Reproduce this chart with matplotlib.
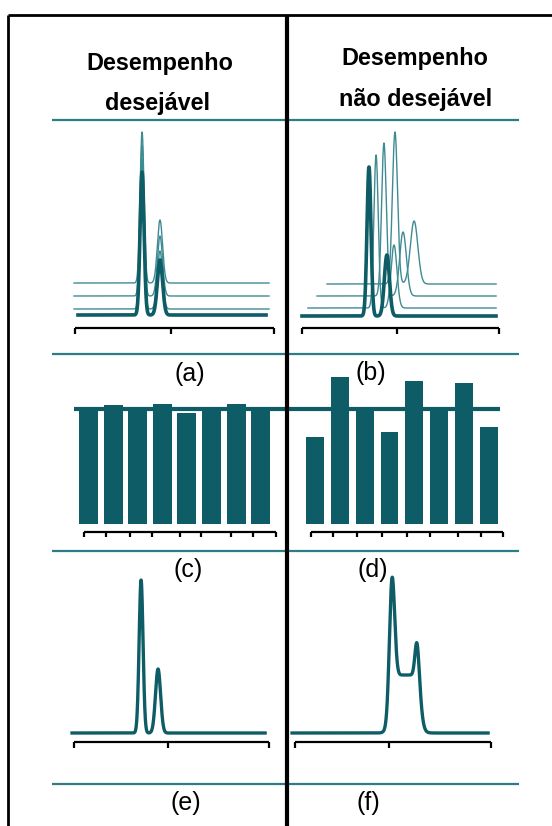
import matplotlib
matplotlib.use("Agg")
import matplotlib.pyplot as plt
import numpy as np

W, H = 552, 826
DARK = "#0e5c66"
THIN = "#3f8b92"
RULE = "#2d7d87"
plt.rcParams["font.family"] = ["Liberation Sans", "DejaVu Sans"]

# chromatograms: x in minutes (bracket 0..10), y in detector response
chrom_ticks = [0, 4.8, 10]

# (a) desirable: retention times stay put between injections
a_offsets = [0, 6, 19, 32]
a_starts = [0.15, -0.05, -0.05, -0.05]
a_ends = [9.6, 9.75, 9.75, 9.75]
a_rt1 = [3.37, 3.37, 3.37, 3.37]
a_rt2 = [4.27, 4.27, 4.27, 4.27]
a_h1 = [143, 150, 151, 151]
a_h2 = [55, 58, 60, 63]
a_sd1 = [0.10, 0.10, 0.10, 0.10]
a_sd2 = [0.13, 0.13, 0.13, 0.13]

# (b) undesirable: retention times drift
b_offsets = [0, 8, 20, 32]
b_starts = [0.0, 0.30, 0.76, 1.27]
b_ends = [9.85, 9.85, 9.85, 9.85]
b_rt1 = [3.40, 3.76, 4.16, 4.72]
b_rt2 = [4.31, 4.67, 5.13, 5.69]
b_h1 = [149, 153, 153, 152]
b_h2 = [61, 63, 64, 63]
b_sd1 = [0.10, 0.11, 0.12, 0.13]
b_sd2 = [0.13, 0.15, 0.17, 0.19]

# (c)/(d) peak areas, % of target
target = 100
c_values = [100, 103.5, 100, 104.3, 96.5, 100, 104.3, 100]
d_values = [75.7, 127.8, 100, 80, 124.3, 100, 122.6, 84.3]
c_ticks = [-0.18, 0.71, 1.69, 2.58, 3.72, 4.57, 5.79, 6.69, 7.62]
d_ticks = [-0.16, 0.72, 1.69, 2.70, 3.70, 4.63, 5.75, 6.68, 7.57]

# (e) resolved peaks
e_rt = [3.44, 4.31]
e_h = [153, 64]
e_sd = [0.10, 0.13]
e_range = [-0.1, 9.8]

# (f) co-eluting peaks on a shoulder
f_rt = [4.95, 6.22]
f_h = [105, 36]
f_sd = [0.13, 0.10]
f_shoulder = [4.8, 6.43, 58]   # start, end, height
f_range = [-0.15, 9.85]


def panel_axes(fig, px_box, x0, sx, y0, sy):
    # px_box = (left, right, top, bottom) in pixels
    l, r, t, b = px_box
    ax = fig.add_axes([l / W, 1 - b / H, (r - l) / W, (b - t) / H])
    ax.set_xlim((l - x0) / sx, (r - x0) / sx)
    ax.set_ylim((y0 - b) / sy, (y0 - t) / sy)
    ax.axis("off")
    ax.patch.set_alpha(0)
    return ax


def gauss(x, rt, h, sd):
    return h * np.exp(-0.5 * ((x - rt) / sd) ** 2)


def bracket(ax, ticks, y, tick_len, lw=1.6):
    ax.plot([ticks[0], ticks[-1]], [y, y], color="black", lw=lw,
            solid_capstyle="butt")
    ax.vlines(ticks, y - tick_len, y, color="black", lw=lw)


def stacked(ax, offsets, starts, ends, rt1, rt2, h1, h2, sd1, sd2):
    # draw from the top trace down so the thick one sits on top
    for i in reversed(range(len(offsets))):
        x = np.linspace(starts[i], ends[i], 3000)
        y = offsets[i] + gauss(x, rt1[i], h1[i], sd1[i]) + gauss(x, rt2[i], h2[i], sd2[i])
        if i == 0:
            ax.plot(x, y, color=DARK, lw=2.6, zorder=5)
        else:
            ax.plot(x, y, color=THIN, lw=1.0, zorder=3)


fig = plt.figure(figsize=(W / 100, H / 100), dpi=100)

# (a)
ax = panel_axes(fig, (10, 285, 122, 352), 75, 19.9, 315, 1.0)
stacked(ax, a_offsets, a_starts, a_ends, a_rt1, a_rt2, a_h1, a_h2, a_sd1, a_sd2)
bracket(ax, chrom_ticks, -13, 6)

# (b)
ax = panel_axes(fig, (289, 550, 122, 352), 302, 19.7, 316, 1.0)
stacked(ax, b_offsets, b_starts, b_ends, b_rt1, b_rt2, b_h1, b_h2, b_sd1, b_sd2)
bracket(ax, chrom_ticks, -12, 6)

# (c)
ax = panel_axes(fig, (10, 287, 356, 549), 88.5, 24.6, 524, 1.15)
ax.bar(range(len(c_values)), c_values, width=0.77, color=DARK, linewidth=0)
ax.plot([-0.59, 8.2], [target, target], color=DARK, lw=3, solid_capstyle="butt")
bracket(ax, c_ticks, -7, 4.5)

# (d)
ax = panel_axes(fig, (287, 550, 356, 549), 315, 24.85, 524, 1.15)
ax.bar(range(len(d_values)), d_values, width=0.72, color=DARK, linewidth=0)
ax.plot([-1.2, 7.44], [target, target], color=DARK, lw=3, solid_capstyle="butt")
bracket(ax, d_ticks, -7, 4.5)

# (e)
ax = panel_axes(fig, (10, 285, 553, 782), 74, 19.5, 733, 1.0)
x = np.linspace(e_range[0], e_range[1], 3000)
y = sum(gauss(x, r, h, s) for r, h, s in zip(e_rt, e_h, e_sd))
ax.plot(x, y, color=DARK, lw=2.4)
bracket(ax, chrom_ticks, -9, 6)

# (f)
ax = panel_axes(fig, (289, 550, 553, 782), 295, 19.6, 733, 1.0)
x = np.linspace(f_range[0], f_range[1], 3000)
s0, s1, sh = f_shoulder
edge = 0.08
shoulder = sh / (1 + np.exp(-(x - s0) / edge)) / (1 + np.exp((x - s1) / edge))
y = shoulder + sum(gauss(x, r, h, s) for r, h, s in zip(f_rt, f_h, f_sd))
ax.plot(x, y, color=DARK, lw=2.4)
bracket(ax, chrom_ticks, -9, 6)

# frame, rules and text in pixel space
ov = fig.add_axes([0, 0, 1, 1])
ov.set_xlim(0, W)
ov.set_ylim(H, 0)
ov.axis("off")
ov.patch.set_alpha(0)

for yr in [120, 354, 551, 784]:
    ov.plot([52, 519], [yr, yr], color=RULE, lw=1.6, solid_capstyle="butt")

ov.plot([8, W], [15, 15], color="black", lw=2, solid_capstyle="butt")
ov.plot([8, 8], [15, H], color="black", lw=2, solid_capstyle="butt")
ov.plot([287, 287], [15, H], color="black", lw=3, solid_capstyle="butt")

title_kw = dict(fontsize=16.8, fontweight="bold", ha="center", va="baseline")
ov.text(160, 70, "Desempenho", **title_kw)
ov.text(158, 110, "desejável", **title_kw)
ov.text(415, 65, "Desempenho", **title_kw)
ov.text(416, 106, "não desejável", **title_kw)

labels = ["(a)", "(b)", "(c)", "(d)", "(e)", "(f)"]
label_x = [190, 371, 188, 373, 186, 368]
label_y = [374, 373, 570, 570, 803, 803]
for s, lx, ly in zip(labels, label_x, label_y):
    ov.text(lx, ly, s, fontsize=18, ha="center", va="center")

fig.savefig("out.png", dpi=100)
